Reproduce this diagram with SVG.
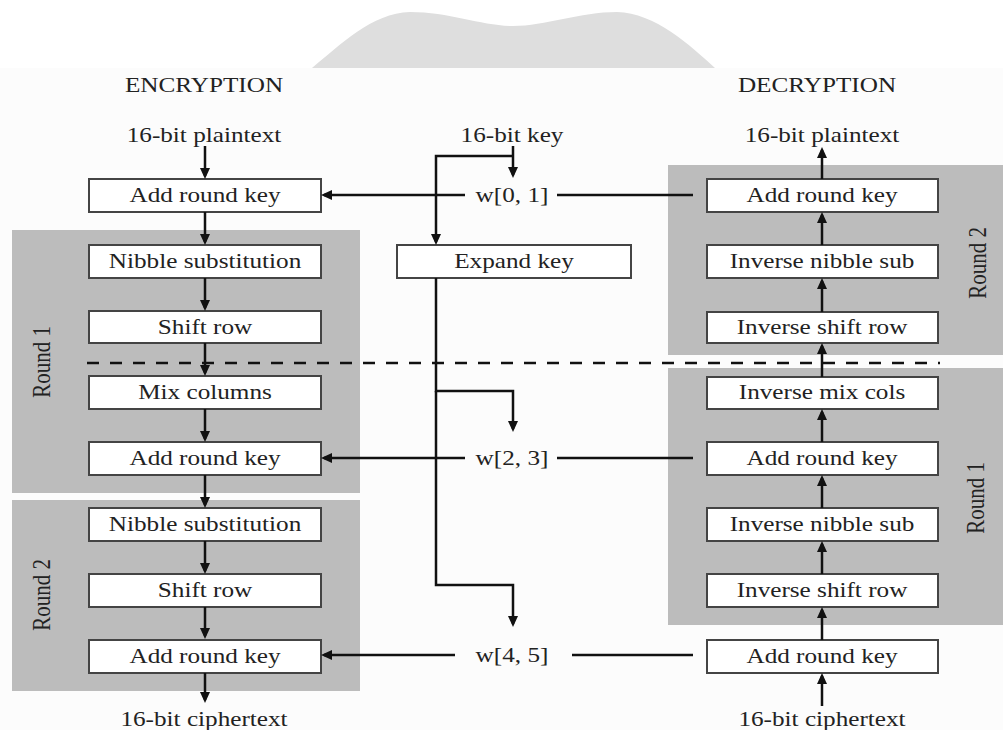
<svg xmlns="http://www.w3.org/2000/svg" width="1003" height="730" viewBox="0 0 1003 730">
<style>
.t{font-family:"Liberation Serif","Times New Roman",serif;font-size:21px;fill:#222;text-anchor:middle}
.box{fill:#fff;stroke:#444;stroke-width:2}
.reg{fill:#bcbcbc}
.c{fill:none;stroke:#111;stroke-width:2.5}
.ca{fill:none;stroke:#111;stroke-width:2.5;marker-end:url(#ah)}
.dash{fill:none;stroke:#111;stroke-width:2.5;stroke-dasharray:12 11}
</style>
<defs>
<marker id="ah" markerWidth="12" markerHeight="10" refX="8" refY="5" orient="auto" markerUnits="userSpaceOnUse">
<path d="M0,0 L11,5 L0,10 z" fill="#111"/>
</marker>
</defs>
<rect x="0" y="0" width="1003" height="730" fill="#fff"/>
<rect x="0" y="68" width="1003" height="662" fill="#fcfcfc"/>
<path d="M312,68 C340,45 372,13 410,12 C450,12 482,26 513,26 C545,26 580,12 617,12 C655,13 690,45 715,68 Z" fill="#dedede"/>

<g id="regions">
<rect class="reg" x="12" y="230" width="348" height="263"/>
<rect class="reg" x="12" y="500" width="348" height="191"/>
<rect class="reg" x="668" y="165" width="335" height="190"/>
<rect class="reg" x="668" y="368" width="335" height="257"/>
</g>

<g id="headings">
<text class="t" transform="translate(204,92) scale(1.2,1)">ENCRYPTION</text>
<text class="t" transform="translate(817,92) scale(1.2,1)">DECRYPTION</text>
<text class="t" transform="translate(204,142) scale(1.2,1)">16-bit plaintext</text>
<text class="t" transform="translate(512,142) scale(1.2,1)">16-bit key</text>
<text class="t" transform="translate(822,142) scale(1.2,1)">16-bit plaintext</text>
<text class="t" transform="translate(204,726) scale(1.2,1)">16-bit ciphertext</text>
<text class="t" transform="translate(822,726) scale(1.2,1)">16-bit ciphertext</text>
<text class="t" transform="translate(50,362) rotate(-90) scale(1,1.2)">Round 1</text>
<text class="t" transform="translate(50,595) rotate(-90) scale(1,1.2)">Round 2</text>
<text class="t" transform="translate(986,263) rotate(-90) scale(1,1.2)">Round 2</text>
<text class="t" transform="translate(984,498) rotate(-90) scale(1,1.2)">Round 1</text>
<text class="t" transform="translate(512,202) scale(1.2,1)">w[0, 1]</text>
<text class="t" transform="translate(512,465) scale(1.2,1)">w[2, 3]</text>
<text class="t" transform="translate(512,662) scale(1.2,1)">w[4, 5]</text>
</g>

<g id="enc-ark0"><rect class="box" x="89" y="179" width="232" height="33"/><text class="t" transform="translate(205,202) scale(1.2,1)">Add round key</text></g>
<g id="enc-ns1"><rect class="box" x="89" y="245" width="232" height="33"/><text class="t" transform="translate(205,268) scale(1.2,1)">Nibble substitution</text></g>
<g id="enc-sr1"><rect class="box" x="89" y="311" width="232" height="32"/><text class="t" transform="translate(205,334) scale(1.2,1)">Shift row</text></g>
<g id="enc-mc1"><rect class="box" x="89" y="376" width="232" height="33"/><text class="t" transform="translate(205,399) scale(1.2,1)">Mix columns</text></g>
<g id="enc-ark1"><rect class="box" x="89" y="442" width="232" height="33"/><text class="t" transform="translate(205,465) scale(1.2,1)">Add round key</text></g>
<g id="enc-ns2"><rect class="box" x="89" y="508" width="232" height="33"/><text class="t" transform="translate(205,531) scale(1.2,1)">Nibble substitution</text></g>
<g id="enc-sr2"><rect class="box" x="89" y="574" width="232" height="33"/><text class="t" transform="translate(205,597) scale(1.2,1)">Shift row</text></g>
<g id="enc-ark2"><rect class="box" x="89" y="640" width="232" height="33"/><text class="t" transform="translate(205,663) scale(1.2,1)">Add round key</text></g>

<g id="expand"><rect class="box" x="397" y="245" width="234" height="33"/><text class="t" transform="translate(514,268) scale(1.2,1)">Expand key</text></g>

<g id="dec-ark2"><rect class="box" x="707" y="179" width="231" height="33"/><text class="t" transform="translate(822,202) scale(1.2,1)">Add round key</text></g>
<g id="dec-ins2"><rect class="box" x="707" y="245" width="231" height="33"/><text class="t" transform="translate(822,268) scale(1.2,1)">Inverse nibble sub</text></g>
<g id="dec-isr2"><rect class="box" x="707" y="312" width="231" height="31"/><text class="t" transform="translate(822,334) scale(1.2,1)">Inverse shift row</text></g>
<g id="dec-imc1"><rect class="box" x="707" y="377" width="231" height="32"/><text class="t" transform="translate(822,399) scale(1.2,1)">Inverse mix cols</text></g>
<g id="dec-ark1"><rect class="box" x="707" y="442" width="231" height="33"/><text class="t" transform="translate(822,465) scale(1.2,1)">Add round key</text></g>
<g id="dec-ins1"><rect class="box" x="707" y="508" width="231" height="33"/><text class="t" transform="translate(822,531) scale(1.2,1)">Inverse nibble sub</text></g>
<g id="dec-isr1"><rect class="box" x="707" y="574" width="231" height="33"/><text class="t" transform="translate(822,597) scale(1.2,1)">Inverse shift row</text></g>
<g id="dec-ark0"><rect class="box" x="707" y="640" width="231" height="33"/><text class="t" transform="translate(822,663) scale(1.2,1)">Add round key</text></g>

<g id="connectors">
<path class="ca" d="M205,146 V176"/>
<path class="ca" d="M205,212 V242"/>
<path class="ca" d="M205,278 V308"/>
<path class="ca" d="M205,343 V373"/>
<path class="ca" d="M205,409 V439"/>
<path class="ca" d="M205,475 V505"/>
<path class="ca" d="M205,541 V571"/>
<path class="ca" d="M205,607 V636"/>
<path class="ca" d="M205,673 V700"/>

<path class="ca" d="M822,706 V676"/>
<path class="ca" d="M822,640 V610"/>
<path class="ca" d="M822,574 V544"/>
<path class="ca" d="M822,508 V478"/>
<path class="ca" d="M822,442 V412"/>
<path class="ca" d="M822,377 V346"/>
<path class="ca" d="M822,312 V281"/>
<path class="ca" d="M822,245 V215"/>
<path class="ca" d="M822,179 V150"/>

<path class="ca" d="M513,146 V175"/>
<path class="ca" d="M513,156 H436 V242"/>
<path class="ca" d="M436,278 V391 H513 V429"/>
<path class="ca" d="M436,391 V585 H513 V624"/>

<path class="ca" d="M465,195 H324"/>
<path class="c" d="M557,195 H693"/>
<path class="ca" d="M465,458 H324"/>
<path class="c" d="M557,458 H693"/>
<path class="ca" d="M455,655 H324"/>
<path class="c" d="M572,655 H693"/>

<path class="dash" d="M87,363 H940"/>
</g>
</svg>
